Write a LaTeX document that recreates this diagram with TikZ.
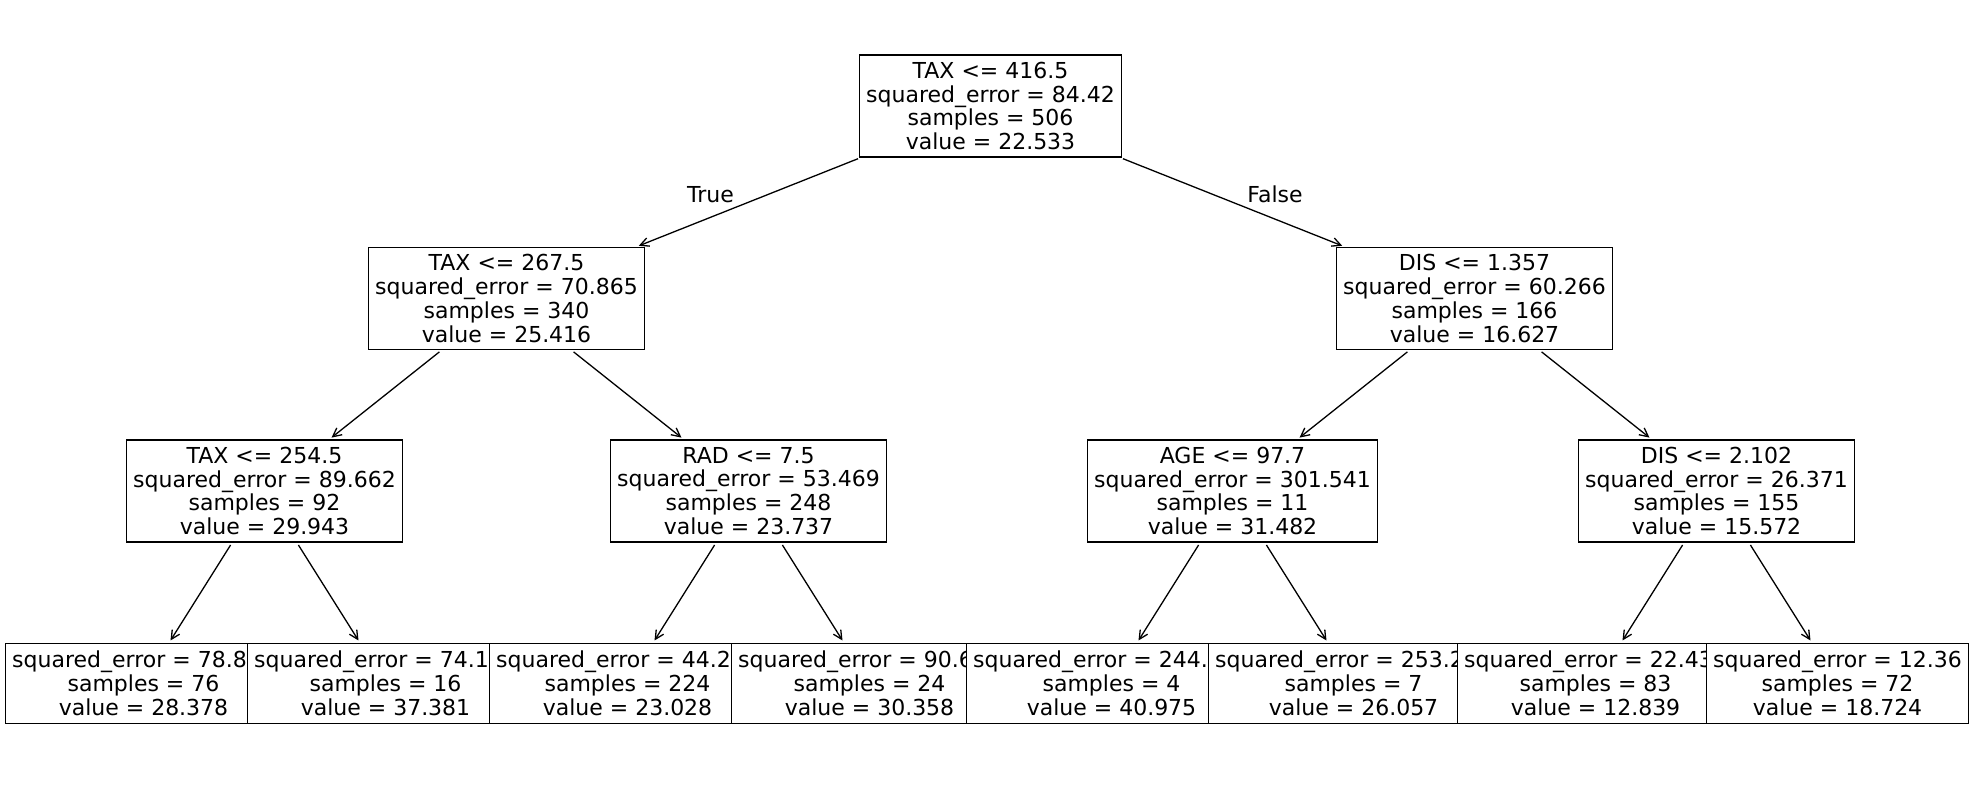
\documentclass[tikz,border=0pt]{standalone}
\usepackage{fontspec}
\setmainfont{DejaVu Sans}
\usepackage{tikz}
\usetikzlibrary{arrows.meta}

% first line of a leaf that the next box hides, kept at its full width
\newcommand{\cutline}[2]{\rlap{#1}\phantom{#2}}

\begin{document}
\begin{tikzpicture}[x=1pt,y=-1pt,
  split/.style={draw, fill=white, line width=1.3pt, align=center, inner xsep=7pt, inner ysep=0pt,
    minimum height=102pt, font=\fontsize{22}{23.8}\selectfont},
  leaf/.style={split, minimum height=80pt},
  edge/.style={-{Straight Barb[length=8.7pt,width=8.7pt]}, line width=1.3pt, shorten >=2.8pt, shorten <=2.8pt},
  branch/.style={anchor=base, font=\fontsize{22}{23.8}\selectfont}]
\useasboundingbox (0,0) rectangle (1973,790);

% splits
\node[split] (root) at (990.5,106) {TAX <= 416.5\\squared\_error = 84.42\\samples = 506\\value = 22.533};
\node[split] (tax1) at (506.5,298.5) {TAX <= 267.5\\squared\_error = 70.865\\samples = 340\\value = 25.416};
\node[split] (dis1) at (1474.5,298.5) {DIS <= 1.357\\squared\_error = 60.266\\samples = 166\\value = 16.627};
\node[split] (tax2) at (264.5,491) {TAX <= 254.5\\squared\_error = 89.662\\samples = 92\\value = 29.943};
\node[split] (rad) at (748.5,491) {RAD <= 7.5\\squared\_error = 53.469\\samples = 248\\value = 23.737};
\node[split] (age) at (1232.5,491) {AGE <= 97.7\\squared\_error = 301.541\\samples = 11\\value = 31.482};
\node[split] (dis2) at (1716.5,491) {DIS <= 2.102\\squared\_error = 26.371\\samples = 155\\value = 15.572};

% leaves, each one drawn over the one before
\node[leaf] (leaf1) at (143.5,683.5) {\cutline{squared\_error = 78.8}{squared\_error = 00.000}\\samples = 76\\value = 28.378};
\node[leaf] (leaf2) at (385.5,683.5) {\cutline{squared\_error = 74.1}{squared\_error = 00.000}\\samples = 16\\value = 37.381};
\node[leaf] (leaf3) at (627.5,683.5) {\cutline{squared\_error = 44.2}{squared\_error = 00.000}\\samples = 224\\value = 23.028};
\node[leaf] (leaf4) at (869.5,683.5) {\cutline{squared\_error = 90.6}{squared\_error = 00.000}\\samples = 24\\value = 30.358};
\node[leaf] (leaf5) at (1111.5,683.5) {\cutline{squared\_error = 244.}{squared\_error = 000.000}\\samples = 4\\value = 40.975};
\node[leaf] (leaf6) at (1353.5,683.5) {\cutline{squared\_error = 253.2}{squared\_error = 000.000}\\samples = 7\\value = 26.057};
\node[leaf] (leaf7) at (1595.5,683.5) {\cutline{squared\_error = 22.43}{squared\_error = 00.000}\\samples = 83\\value = 12.839};
\node[leaf] (leaf8) at (1837.5,683.5) {squared\_error = 12.36\\samples = 72\\value = 18.724};

% connectors
\draw[edge] (root) -- (tax1);
\draw[edge] (root) -- (dis1);
\draw[edge] (tax1) -- (tax2);
\draw[edge] (tax1) -- (rad);
\draw[edge] (dis1) -- (age);
\draw[edge] (dis1) -- (dis2);
\draw[edge] (tax2) -- (leaf1);
\draw[edge] (tax2) -- (leaf2);
\draw[edge] (rad) -- (leaf3);
\draw[edge] (rad) -- (leaf4);
\draw[edge] (age) -- (leaf5);
\draw[edge] (age) -- (leaf6);
\draw[edge] (dis2) -- (leaf7);
\draw[edge] (dis2) -- (leaf8);

\node[branch] (true) at (710.5,202) {True};
\node[branch] (false) at (1275,202) {False};
\end{tikzpicture}
\end{document}
